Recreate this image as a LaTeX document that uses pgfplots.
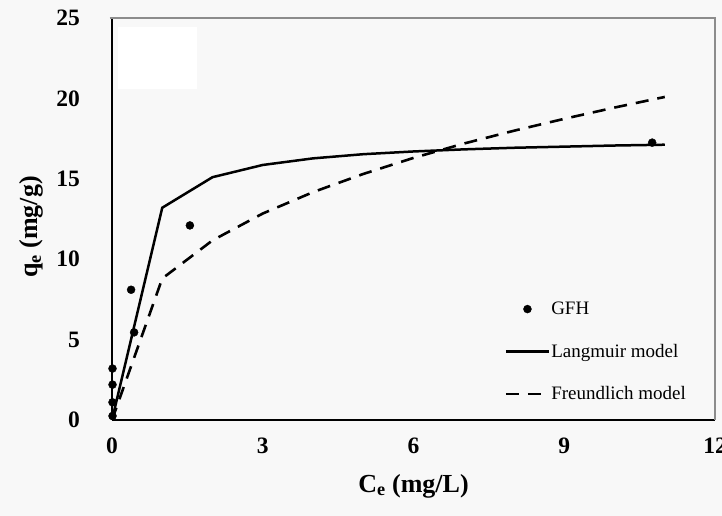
\documentclass[border=0pt]{standalone}
\usepackage{pgfplots}
\pgfplotsset{compat=1.18}
\usepackage{fontspec}
\setmainfont{Liberation Serif}
\usetikzlibrary{backgrounds}
\definecolor{bgcol}{RGB}{248,248,248}
\definecolor{boxgray}{RGB}{140,140,140}
\pgfplotsset{
  lineleg/.style={legend image code/.code={\draw[##1] (0pt,0pt) -- (43pt,0pt);}},
  markleg/.style={legend image code/.code={\draw[##1] plot coordinates {(21.5pt,0pt)};}},
}
\begin{document}
\begin{tikzpicture}
\begin{axis}[
  width=603pt, height=402pt, scale only axis,
  xmin=0, xmax=12, ymin=0, ymax=25,
  xtick={0,3,6,9,12}, ytick={0,5,10,15,20,25},
  major tick length=0pt,
  axis lines*=left,
  axis line style={black, line width=1.6pt},
  clip=false,
  /pgf/number format/assume math mode=true,
  ticklabel style={font=\fontsize{23.5}{23.5}\selectfont\bfseries, inner sep=0pt},
  xticklabel shift=18pt,
  yticklabel shift=32pt,
  xlabel={C\textsubscript{e} (mg/L)},
  ylabel={q\textsubscript{e} (mg/g)},
  label style={font=\fontsize{26}{26}\selectfont\bfseries, inner sep=0pt},
  xlabel style={at={(axis description cs:0.5,0)}, anchor=north, yshift=-54pt},
  ylabel style={at={(axis description cs:0,0.48)}, anchor=center, yshift=81pt},
  legend style={at={(axis cs:7.81,7.41)}, anchor=north west, draw=none, fill=none,
    inner sep=0pt, font=\fontsize{19}{19}\selectfont, row sep=26pt,
    nodes={inner sep=1pt}},
  legend cell align=left,
]
\fill[white] (rel axis cs:0.01,0.823) rectangle (rel axis cs:0.141,0.978);
\draw[boxgray, line width=1.2pt] (rel axis cs:-0.004,1) -- (rel axis cs:1,1) -- (rel axis cs:1,0);

\addplot[only marks, mark=*, mark size=4pt, black, markleg]
  coordinates {(0.01,0.25) (0.01,1.1) (0.01,2.2) (0.01,3.2) (0.44,5.45) (0.38,8.1) (1.55,12.1) (10.75,17.25)};
\addlegendentry{GFH}

\addplot[black, line width=2.5pt, mark=none, lineleg]
  coordinates {(0,0) (1,13.2) (2,15.1) (3,15.86) (4,16.27) (5,16.53) (6,16.70) (7,16.83) (8,16.93) (9,17.00) (10,17.07) (11,17.12)};
\addlegendentry{Langmuir model}

\addplot[black, line width=2.6pt, mark=none, dash pattern=on 13pt off 9pt, lineleg]
  coordinates {(0,0) (1,8.8) (2,11.17) (3,12.84) (4,14.17) (5,15.30) (6,16.30) (7,17.19) (8,17.99) (9,18.73) (10,19.43) (11,20.09)};
\addlegendentry{Freundlich model}
\end{axis}
\pgfresetboundingbox
\path[use as bounding box] ([shift={(-112pt,-96pt)}]current axis.south west) rectangle ([shift={(7pt,18pt)}]current axis.north east);
\begin{scope}[on background layer]
\fill[bgcol] ([shift={(-112pt,-96pt)}]current axis.south west) rectangle ([shift={(7pt,18pt)}]current axis.north east);
\end{scope}
\end{tikzpicture}
\end{document}
